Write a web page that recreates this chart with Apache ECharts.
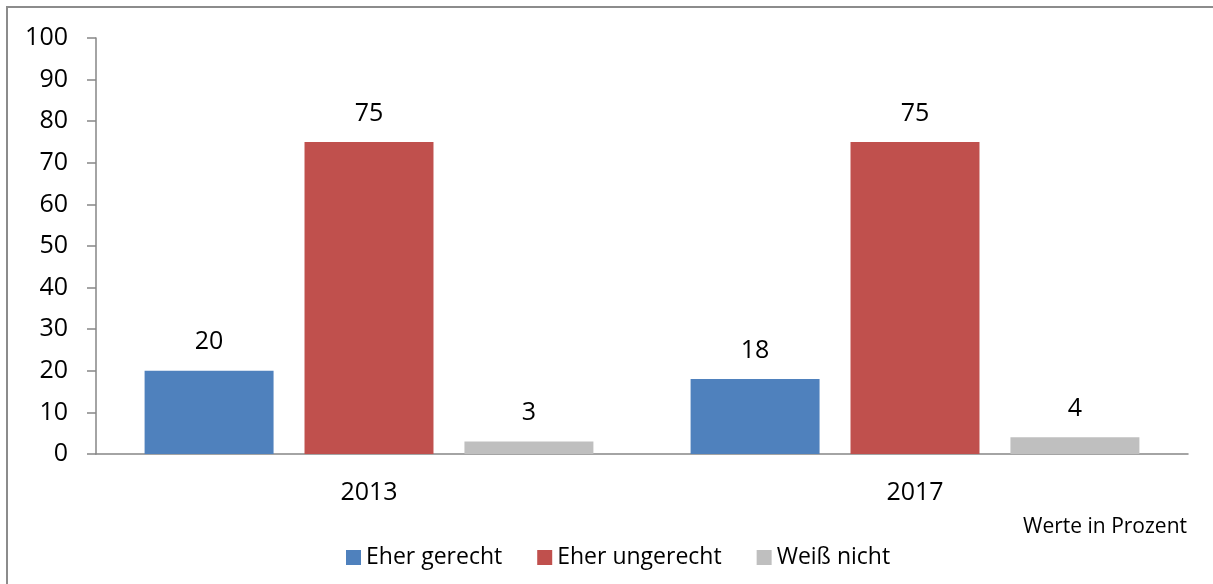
<!DOCTYPE html>
<html lang="de">

<head>
    <meta charset="UTF-8">
    <title>Eher gerecht / ungerecht</title>
    <style>
        html, body {
            margin: 0;
            padding: 0;
            background: #fff;
        }

        #chart {
            width: 1213px;
            height: 584px;
        }
    </style>
</head>

<body>
    <div id="chart"></div>
</body>
<script type="text/javascript" src="https://cdn.jsdelivr.net/npm/echarts@6/dist/echarts.min.js"></script>
<script type="text/javascript">
    // Daten
    var years = ['2013', '2017'];
    var seriesNames = ['Eher gerecht', 'Eher ungerecht', 'Weiß nicht'];
    var gerecht = [20, 18];
    var ungerecht = [75, 75];
    var weissNicht = [3, 4];
    var colors = ['#4f81bd', '#c0504d', '#bfbfbf'];

    var font = '"Open Sans", sans-serif';
    var axisColor = '#868686';

    function barSeries(name, values, color) {
        return {
            name: name,
            type: 'bar',
            data: values,
            barGap: '24%',
            barCategoryGap: '17.8%',
            itemStyle: { color: color },
            label: {
                show: true,
                position: 'top',
                distance: 16,
                color: '#000',
                fontFamily: font,
                fontSize: 25
            }
        };
    }

    var option = {
        animation: false,
        color: colors,
        grid: {
            left: 96,
            right: 25,
            top: 38,
            bottom: 130
        },
        legend: {
            left: 341,
            top: 541,
            itemWidth: 15,
            itemHeight: 15,
            itemGap: 35,
            icon: 'rect',
            textStyle: {
                fontFamily: font,
                fontSize: 23,
                color: '#000'
            },
            data: seriesNames
        },
        xAxis: {
            type: 'category',
            data: years,
            axisLine: { lineStyle: { color: axisColor, width: 1.5 } },
            axisTick: { show: false },
            axisLabel: {
                color: '#000',
                fontFamily: font,
                fontSize: 25,
                margin: 26
            }
        },
        yAxis: {
            type: 'value',
            min: 0,
            max: 100,
            interval: 10,
            axisLine: { show: true, lineStyle: { color: axisColor, width: 1.5 } },
            axisTick: { show: true, length: 9, lineStyle: { color: axisColor, width: 1.5 } },
            splitLine: { show: false },
            axisLabel: {
                color: '#000',
                fontFamily: font,
                fontSize: 25,
                margin: 28
            }
        },
        graphic: [
            {
                type: 'rect',
                shape: { x: 7, y: 7, width: 1230, height: 620 },
                style: { fill: 'none', stroke: '#8c8c8c', lineWidth: 2 },
                silent: true
            },
            {
                type: 'text',
                x: 1187,
                y: 527,
                style: {
                    text: 'Werte in Prozent',
                    fill: '#000',
                    font: '21px "Open Sans", sans-serif',
                    textAlign: 'right',
                    textVerticalAlign: 'middle'
                }
            }
        ],
        series: [
            barSeries(seriesNames[0], gerecht, colors[0]),
            barSeries(seriesNames[1], ungerecht, colors[1]),
            barSeries(seriesNames[2], weissNicht, colors[2])
        ]
    };

    var myChart = echarts.init(document.getElementById('chart'));
    myChart.setOption(option);
</script>

</html>
